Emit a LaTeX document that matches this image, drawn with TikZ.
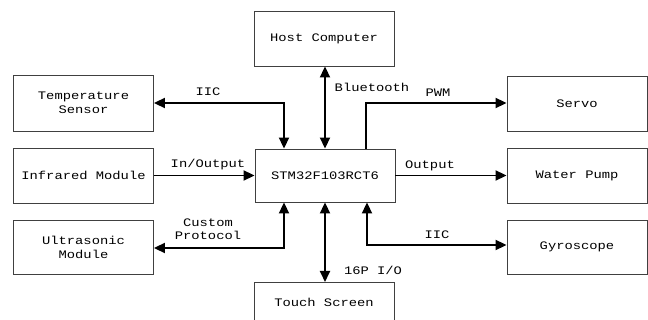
\documentclass[tikz,border=0pt]{standalone}
\usepackage{fontspec}
\setmonofont[FakeStretch=1.2]{Liberation Mono}
\usetikzlibrary{arrows.meta}
\begin{document}
\begin{tikzpicture}[x=1pt,y=-1pt,
  blk/.style={draw=black!75, line width=0.9pt, fill=white, minimum width=140pt, minimum height=55pt, inner sep=0pt, align=center, font=\ttfamily\fontsize{11.5}{14}\selectfont},
  conn/.style={line width=1.9pt, -{Triangle[length=11pt,width=10pt]}},
  bconn/.style={line width=1.9pt, {Triangle[length=11pt,width=10pt]}-{Triangle[length=11pt,width=10pt]}},
  lbl/.style={font=\ttfamily\fontsize{11.5}{13}\selectfont, inner sep=0pt, align=center}]
\useasboundingbox (0,0) rectangle (648,320);
\clip (0,0) rectangle (648,320);
\fill[white] (0,0) rectangle (648,320);
% boxes
\node[blk] (host) at (324,38.5) {Host Computer};
\node[blk, minimum height=53pt] (mcu) at (325,175.5) {STM32F103RCT6};
\node[blk, minimum height=56pt] (temp) at (83.5,103) {Temperature\\Sensor};
\node[blk] (ir) at (83.5,175.5) {Infrared Module};
\node[blk, minimum height=54pt] (us) at (83.5,247) {Ultrasonic\\Module};
\node[blk, minimum height=55pt] (servo) at (577,103.5) {Servo};
\node[blk] (pump) at (577,175.5) {Water Pump};
\node[blk, minimum height=54pt] (gyro) at (577,247) {Gyroscope};
\node[blk, minimum height=39pt, anchor=north] (touch) at (324,282) {Touch Screen};
% connectors
\coordinate (c1) at (284,103);
\coordinate (c2) at (366,103);
\coordinate (c3) at (284,248);
\coordinate (c4) at (367,245);
\draw[bconn] (temp.east |- c1) -- (c1) -- (c1 |- mcu.north);
\draw[bconn] (host.south -| 325,0) -- (mcu.north -| 325,0);
\draw[conn] (c2 |- mcu.north) -- (c2) -- (servo.west |- c2);
\draw[conn] (ir.east) -- (mcu.west);
\draw[conn] (mcu.east) -- (pump.west);
\draw[bconn] (us.east |- c3) -- (c3) -- (c3 |- mcu.south);
\draw[bconn] (c4 |- mcu.south) -- (c4) -- (gyro.west |- c4);
\draw[bconn] (mcu.south -| 325,0) -- (touch.north -| 325,0);
% labels
\node[lbl] (l1) at (208,92) {IIC};
\node[lbl] (l2) at (372,87) {Bluetooth};
\node[lbl] (l3) at (438,93) {PWM};
\node[lbl] (l4) at (208,165) {In/Output};
\node[lbl] (l5) at (430,166) {Output};
\node[lbl] (l6) at (208,229) {Custom\\Protocol};
\node[lbl] (l7) at (437,235) {IIC};
\node[lbl] (l8) at (373,270) {16P I/O};
\end{tikzpicture}
\end{document}
